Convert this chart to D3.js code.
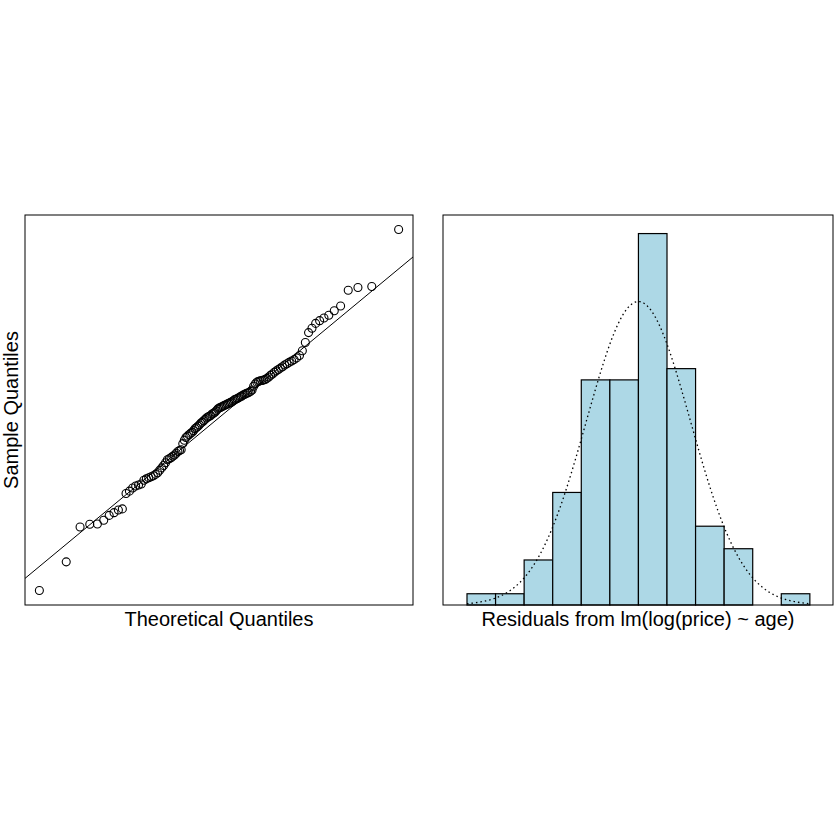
<!DOCTYPE html>
<html>
<head>
<meta charset="utf-8">
<script src="https://cdn.jsdelivr.net/npm/d3@7"></script>
<style>
  html, body { margin: 0; padding: 0; background: #fff; }
  svg { display: block; font-family: "Liberation Sans", Arial, sans-serif; }
</style>
</head>
<body>
<div id="chart"></div>
<script>
// sorted residuals
const residuals = [
  -0.513, -0.429, -0.327, -0.319, -0.318, -0.307, -0.293, -0.285, -0.277, -0.274,
  -0.229, -0.222, -0.213, -0.207, -0.204, -0.201, -0.190, -0.186, -0.183, -0.180,
  -0.177, -0.173, -0.168, -0.161, -0.154, -0.147, -0.139, -0.130, -0.127, -0.124,
  -0.120, -0.116, -0.111, -0.106, -0.103, -0.101, -0.083, -0.073, -0.065, -0.061,
  -0.057, -0.053, -0.050, -0.045, -0.039, -0.036, -0.032, -0.028, -0.023, -0.020,
  -0.016, -0.012, -0.008, -0.005, -0.003, -0.001, 0.004, 0.006, 0.009, 0.013,
  0.018, 0.021, 0.023, 0.025, 0.027, 0.029, 0.031, 0.033, 0.035, 0.037,
  0.039, 0.042, 0.045, 0.047, 0.049, 0.051, 0.054, 0.056, 0.059, 0.061,
  0.064, 0.065, 0.067, 0.070, 0.074, 0.085, 0.092, 0.097, 0.099, 0.101,
  0.102, 0.103, 0.105, 0.108, 0.112, 0.117, 0.121, 0.126, 0.130, 0.134,
  0.138, 0.142, 0.147, 0.151, 0.155, 0.159, 0.163, 0.168, 0.175, 0.189,
  0.213, 0.242, 0.255, 0.269, 0.277, 0.285, 0.293, 0.306, 0.320, 0.366,
  0.374, 0.377, 0.544
]
const histBreaks = [-0.6, -0.5, -0.4, -0.3, -0.2, -0.1, 0, 0.1, 0.2, 0.3, 0.4, 0.5, 0.6]
const histXlim = [-0.684, 0.681]
// normal curve drawn over the histogram
const normMean = 0.0
const normSd = 0.182
const labels = {
  qqX: "Theoretical Quantiles",
  qqY: "Sample Quantiles",
  histX: "Residuals from lm(log(price) ~ age)"
}

const W = 840, H = 840
const qqBox = { x0: 25, x1: 413, y0: 215, y1: 605 }
const hiBox = { x0: 443, x1: 833, y0: 215, y1: 605 }
const fontSize = 20

const svg = d3.select("#chart").append("svg")
  .attr("width", W).attr("height", H)
svg.append("rect").attr("width", W).attr("height", H).attr("fill", "#fff")

// inverse normal cdf (Acklam)
function qnorm(p) {
  const a = [-3.969683028665376e+01, 2.209460984245205e+02, -2.759285104469687e+02, 1.383577518672690e+02, -3.066479806614716e+01, 2.506628277459239e+00]
  const b = [-5.447609879822406e+01, 1.615858368580409e+02, -1.556989798598866e+02, 6.680131188771972e+01, -1.328068155288572e+01]
  const c = [-7.784894002430293e-03, -3.223964580411365e-01, -2.400758277161838e+00, -2.549732539343734e+00, 4.374664141464968e+00, 2.938163982698783e+00]
  const d = [7.784695709041462e-03, 3.224671290700398e-01, 2.445134137142996e+00, 3.754408661907416e+00]
  const pl = 0.02425
  if (p < pl) {
    const q = Math.sqrt(-2 * Math.log(p))
    return (((((c[0]*q+c[1])*q+c[2])*q+c[3])*q+c[4])*q+c[5]) / ((((d[0]*q+d[1])*q+d[2])*q+d[3])*q+1)
  }
  if (p > 1 - pl) return -qnorm(1 - p)
  const q = p - 0.5, r = q * q
  return (((((a[0]*r+a[1])*r+a[2])*r+a[3])*r+a[4])*r+a[5])*q / (((((b[0]*r+b[1])*r+b[2])*r+b[3])*r+b[4])*r+1)
}

function pad(ext, f) {
  const r = ext[1] - ext[0]
  return [ext[0] - r * f, ext[1] + r * f]
}

drawQQ()
drawHist()

function drawQQ() {
  const n = residuals.length
  const pts = residuals.map((v, i) => ({ t: qnorm((i + 0.5) / n), s: v }))

  const x = d3.scaleLinear().domain(pad(d3.extent(pts, d => d.t), 0.04)).range([qqBox.x0, qqBox.x1])
  const y = d3.scaleLinear().domain(pad(d3.extent(pts, d => d.s), 0.04)).range([qqBox.y1, qqBox.y0])

  const g = svg.append("g")
  g.append("clipPath").attr("id", "qqclip")
    .append("rect").attr("x", qqBox.x0).attr("y", qqBox.y0)
    .attr("width", qqBox.x1 - qqBox.x0).attr("height", qqBox.y1 - qqBox.y0)

  // qqline through the quartiles
  const q1 = d3.quantile(residuals, 0.25), q3 = d3.quantile(residuals, 0.75)
  const z1 = qnorm(0.25), z3 = qnorm(0.75)
  const slope = (q3 - q1) / (z3 - z1), icpt = q1 - slope * z1
  const [xa, xb] = x.domain()
  g.append("line").attr("clip-path", "url(#qqclip)")
    .attr("x1", x(xa)).attr("y1", y(icpt + slope * xa))
    .attr("x2", x(xb)).attr("y2", y(icpt + slope * xb))
    .attr("stroke", "#000").attr("stroke-width", 1)

  g.selectAll("circle").data(pts).join("circle")
    .attr("cx", d => x(d.t)).attr("cy", d => y(d.s)).attr("r", 4)
    .attr("fill", "none").attr("stroke", "#000").attr("stroke-width", 1.1)

  g.append("rect").attr("x", qqBox.x0).attr("y", qqBox.y0)
    .attr("width", qqBox.x1 - qqBox.x0).attr("height", qqBox.y1 - qqBox.y0)
    .attr("fill", "none").attr("stroke", "#000").attr("stroke-width", 1)

  g.append("text").attr("x", (qqBox.x0 + qqBox.x1) / 2).attr("y", 626)
    .attr("text-anchor", "middle").attr("font-size", fontSize).text(labels.qqX)
  g.append("text").attr("transform", `translate(18,${(qqBox.y0 + qqBox.y1) / 2}) rotate(-90)`)
    .attr("text-anchor", "middle").attr("font-size", fontSize).text(labels.qqY)
}

function drawHist() {
  const bins = d3.bin().domain([histBreaks[0], histBreaks[histBreaks.length - 1]])
    .thresholds(histBreaks.slice(1, -1))(residuals)
  const binW = histBreaks[1] - histBreaks[0]

  const x = d3.scaleLinear().domain(histXlim).range([hiBox.x0, hiBox.x1])
  const y = d3.scaleLinear().domain([0, d3.max(bins, b => b.length) * 1.05]).range([hiBox.y1, hiBox.y0])

  const g = svg.append("g")
  g.selectAll("rect.bar").data(bins).join("rect").attr("class", "bar")
    .attr("x", d => x(d.x0)).attr("y", d => y(d.length))
    .attr("width", d => x(d.x1) - x(d.x0)).attr("height", d => y(0) - y(d.length))
    .attr("fill", "#ADD8E6").attr("stroke", "#000").attr("stroke-width", 1.2)

  // normal density scaled to counts
  const n = residuals.length
  const lo = histBreaks[0], hi = histBreaks[histBreaks.length - 1]
  const xs = d3.range(0, 201).map(i => lo + i * (hi - lo) / 200)
  const dens = v => n * binW * Math.exp(-0.5 * ((v - normMean) / normSd) ** 2) / (normSd * Math.sqrt(2 * Math.PI))
  g.append("path").datum(xs)
    .attr("d", d3.line().x(v => x(v)).y(v => y(dens(v))))
    .attr("fill", "none").attr("stroke", "#000").attr("stroke-width", 1.3)
    .attr("stroke-dasharray", "1.5,3")

  g.append("rect").attr("x", hiBox.x0).attr("y", hiBox.y0)
    .attr("width", hiBox.x1 - hiBox.x0).attr("height", hiBox.y1 - hiBox.y0)
    .attr("fill", "none").attr("stroke", "#000").attr("stroke-width", 1)

  g.append("text").attr("x", (hiBox.x0 + hiBox.x1) / 2).attr("y", 626)
    .attr("text-anchor", "middle").attr("font-size", fontSize).text(labels.histX)
}
</script>
</body>
</html>
